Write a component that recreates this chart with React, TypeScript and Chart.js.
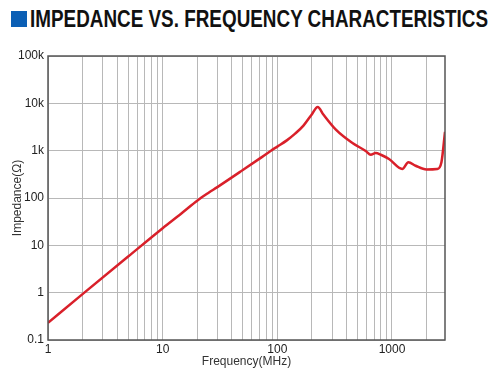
import React, { useEffect, useLayoutEffect, useRef, useState } from 'react';
import { Chart, registerables } from 'chart.js';

Chart.register(...registerables);

// Frequency (MHz) and impedance (Ω)
const freqMHz = [1, 2, 5, 10, 15, 20, 25, 30, 50, 70, 88, 100, 121, 143, 169, 199, 225, 252, 324, 452, 590, 653, 721, 800, 942, 1230, 1390, 1607, 2000, 2477, 2700, 2900];
const impedanceOhm = [0.23, 0.93, 5.8, 23, 50, 88, 128, 170, 390, 680, 1000, 1220, 1650, 2290, 3380, 5770, 8400, 5800, 2780, 1450, 985, 820, 890, 820, 665, 410, 570, 480, 400, 410, 570, 2500];

const xTickValues = [1, 2, 3, 4, 5, 6, 7, 8, 9, 10, 20, 30, 40, 50, 60, 70, 80, 90, 100, 200, 300, 400, 500, 600, 700, 800, 900, 1000, 2000];
const xLabeledTicks = [1, 10, 100, 1000];
const xTickLabels = ['1', '10', '100', '1000'];
const yTickValues = [0.1, 1, 10, 100, 1000, 10000, 100000];
const yTickLabels = ['0.1', '1', '10', '100', '1k', '10k', '100k'];

const titleText = 'IMPEDANCE VS. FREQUENCY CHARACTERISTICS';
const xTitle = 'Frequency(MHz)';
const yTitle = 'Impedance(Ω)';

const FONT = "'Liberation Sans', Arial, Helvetica, sans-serif";
const TITLE_WIDTH = 458;

const frame = {
  id: 'frameBox',
  afterDraw(chart: any) {
    const { ctx, chartArea } = chart;
    ctx.save();
    ctx.strokeStyle = '#555555';
    ctx.lineWidth = 1.5;
    ctx.strokeRect(chartArea.left, chartArea.top, chartArea.right - chartArea.left, chartArea.bottom - chartArea.top);
    ctx.restore();
  },
};

export default function App() {
  const ref = useRef<HTMLCanvasElement | null>(null);
  const titleRef = useRef<HTMLDivElement | null>(null);
  const [scaleX, setScaleX] = useState(0.85);

  useLayoutEffect(() => {
    if (titleRef.current) {
      const w = titleRef.current.offsetWidth;
      if (w > 0) setScaleX(TITLE_WIDTH / w);
    }
  }, []);

  useEffect(() => {
    if (!ref.current) return;
    const chart = new Chart(ref.current, {
      type: 'line',
      data: {
        datasets: [
          {
            data: freqMHz.map((f, i) => ({ x: f, y: impedanceOhm[i] })),
            borderColor: '#d9202a',
            borderWidth: 2.5,
            pointRadius: 0,
            cubicInterpolationMode: 'monotone',
            fill: false,
          },
        ],
      },
      options: {
        animation: false,
        responsive: false,
        events: [],
        layout: { padding: { top: 56, right: 55, left: 0, bottom: 0 } },
        plugins: { legend: { display: false }, tooltip: { enabled: false } },
        scales: {
          x: {
            type: 'logarithmic',
            min: 1,
            max: 2900,
            afterBuildTicks: (scale: any) => {
              scale.ticks = xTickValues.map((v) => ({ value: v }));
            },
            afterFit: (scale: any) => {
              scale.height = 35;
            },
            grid: { color: '#b8b8b8', lineWidth: 1, drawTicks: false },
            border: { display: false },
            ticks: {
              autoSkip: false,
              maxRotation: 0,
              padding: 2,
              color: '#222',
              font: { family: FONT, size: 12 },
              callback: (value: any) => {
                const idx = xLabeledTicks.indexOf(Number(value));
                return idx >= 0 ? xTickLabels[idx] : '';
              },
            },
            title: {
              display: true,
              text: xTitle,
              color: '#333',
              font: { family: FONT, size: 12 },
              padding: { top: 0, bottom: 6 },
            },
          },
          y: {
            type: 'logarithmic',
            min: 0.1,
            max: 100000,
            afterBuildTicks: (scale: any) => {
              scale.ticks = yTickValues.map((v) => ({ value: v }));
            },
            afterFit: (scale: any) => {
              scale.width = 48;
            },
            grid: { color: '#b8b8b8', lineWidth: 1, drawTicks: false },
            border: { display: false },
            ticks: {
              autoSkip: false,
              padding: 4,
              color: '#222',
              font: { family: FONT, size: 12 },
              callback: (value: any) => {
                const idx = yTickValues.indexOf(Number(value));
                return idx >= 0 ? yTickLabels[idx] : '';
              },
            },
            title: {
              display: true,
              text: yTitle,
              color: '#333',
              font: { family: FONT, size: 12 },
              padding: { top: 10, bottom: 0 },
            },
          },
        },
      },
      plugins: [frame],
    } as any);
    return () => chart.destroy();
  }, []);

  return (
    <div style={{ position: 'fixed', left: 0, top: 0, width: 500, height: 375, background: '#fff', overflow: 'hidden' }}>
      <div style={{ position: 'absolute', left: 11, top: 11, width: 16, height: 16, background: '#0b5fb5' }} />
      <div
        ref={titleRef}
        style={{
          position: 'absolute',
          left: 30,
          top: 8,
          fontFamily: FONT,
          fontWeight: 'bold',
          fontSize: 23,
          lineHeight: '23px',
          color: '#111',
          whiteSpace: 'nowrap',
          transform: `scaleX(${scaleX})`,
          transformOrigin: 'left top',
        }}
      >
        {titleText}
      </div>
      <canvas ref={ref} width={500} height={375} style={{ position: 'absolute', left: 0, top: 0, width: 500, height: 375 }} />
    </div>
  );
}
